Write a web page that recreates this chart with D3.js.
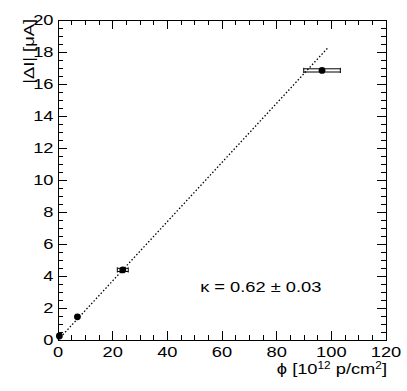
<!DOCTYPE html>
<html>
<head>
<meta charset="utf-8">
<script src="https://cdn.jsdelivr.net/npm/d3@7"></script>
<style>
  body { margin: 0; background: #fff; }
  text { font-family: "Liberation Sans", Arial, sans-serif; fill: #000; }
</style>
</head>
<body>
<div id="chart"></div>
<script>
// measured points: fluence [1e12 p/cm2] vs |dI| [uA]
const fluence = [0.5, 7.1, 23.7, 96.6];
const current = [0.25, 1.45, 4.38, 16.85];
const fluenceErr = [0, 0, 2.0, 6.7];
const currentErr = [0, 0, 0.1, 0.1];

// linear fit drawn as dotted line
const fitSlope = 0.185;
const fitRange = [0, 99];

const xTicks = [0, 20, 40, 60, 80, 100, 120];
const yTicks = [0, 2, 4, 6, 8, 10, 12, 14, 16, 18, 20];

const W = 407, H = 391;
const margin = {top: 20, right: 21, bottom: 51, left: 58};
const width = W - margin.left - margin.right;
const height = H - margin.top - margin.bottom;
const fs = 15.5, sx = 1.18;

const svg = d3.select('#chart').append('svg')
  .attr('width', W)
  .attr('height', H);

const g = svg.append('g')
  .attr('transform', `translate(${margin.left},${margin.top})`);

const x = d3.scaleLinear().domain([0, 120]).range([0, width]);
const y = d3.scaleLinear().domain([0, 20]).range([height, 0]);

// frame
g.append('rect')
  .attr('x', 0).attr('y', 0)
  .attr('width', width).attr('height', height)
  .attr('fill', 'none')
  .attr('stroke', '#000')
  .attr('shape-rendering', 'crispEdges');

// ticks on all four sides, pointing inward
const xMinor = d3.range(0, 120.01, 5);
const yMinor = d3.range(0, 20.01, 0.5);
const isMajorX = v => Math.abs(v % 20) < 1e-6;
const isMajorY = v => Math.abs(v % 2) < 1e-6;

const ticks = g.append('g')
  .attr('stroke', '#000')
  .attr('shape-rendering', 'crispEdges');

xMinor.forEach(v => {
  const len = isMajorX(v) ? 9 : 5;
  ticks.append('line').attr('x1', x(v)).attr('x2', x(v)).attr('y1', height).attr('y2', height - len);
  ticks.append('line').attr('x1', x(v)).attr('x2', x(v)).attr('y1', 0).attr('y2', len);
});
yMinor.forEach(v => {
  const len = isMajorY(v) ? 9 : 5;
  ticks.append('line').attr('y1', y(v)).attr('y2', y(v)).attr('x1', 0).attr('x2', len);
  ticks.append('line').attr('y1', y(v)).attr('y2', y(v)).attr('x1', width).attr('x2', width - len);
});

// tick labels (slightly wide glyphs like the original)
g.selectAll('.xlab').data(xTicks).enter().append('text')
  .attr('class', 'xlab')
  .attr('transform', d => `translate(${x(d)},${height + 16.5}) scale(${sx},1)`)
  .attr('text-anchor', 'middle')
  .style('font-size', fs + 'px')
  .text(d => d);

g.selectAll('.ylab').data(yTicks).enter().append('text')
  .attr('class', 'ylab')
  .attr('transform', d => `translate(-4.5,${y(d) + 4.5}) scale(${sx},1)`)
  .attr('text-anchor', 'end')
  .style('font-size', fs + 'px')
  .text(d => d);

// axis titles
const xt = g.append('text')
  .attr('transform', `translate(${width + 1},${height + 33.5}) scale(${sx},1)`)
  .attr('text-anchor', 'end')
  .style('font-size', fs + 'px');
xt.append('tspan').text('\u03d5 [10');
xt.append('tspan').attr('dy', -4.5).style('font-size', '10px').text('12');
xt.append('tspan').attr('dy', 4.5).text(' p/cm');
xt.append('tspan').attr('dy', -4.5).style('font-size', '10px').text('2');
xt.append('tspan').attr('dy', 4.5).text(']');

g.append('text')
  .attr('transform', `translate(-24.5,-1) rotate(-90) scale(${sx},1)`)
  .attr('text-anchor', 'end')
  .style('font-size', fs + 'px')
  .text('|\u0394I| [\u03bcA]');

// fit line
g.append('line')
  .attr('x1', x(fitRange[0])).attr('y1', y(fitSlope * fitRange[0]))
  .attr('x2', x(fitRange[1])).attr('y2', y(fitSlope * fitRange[1]))
  .attr('stroke', '#000')
  .attr('stroke-width', 1.3)
  .attr('stroke-dasharray', '1.5,2');

// points with error bars
const pts = fluence.map((f, i) => ({x: f, y: current[i], ex: fluenceErr[i], ey: currentErr[i]}));

const eb = g.append('g').attr('stroke', '#000').attr('stroke-width', 1);
pts.filter(d => d.ex > 0).forEach(d => {
  const y1 = y(d.y + d.ey), y2 = y(d.y - d.ey);
  eb.append('line').attr('x1', x(d.x - d.ex)).attr('x2', x(d.x + d.ex)).attr('y1', y1).attr('y2', y1);
  eb.append('line').attr('x1', x(d.x - d.ex)).attr('x2', x(d.x + d.ex)).attr('y1', y2).attr('y2', y2);
  eb.append('line').attr('x1', x(d.x - d.ex)).attr('x2', x(d.x - d.ex)).attr('y1', y1 - 1).attr('y2', y2 + 1);
  eb.append('line').attr('x1', x(d.x + d.ex)).attr('x2', x(d.x + d.ex)).attr('y1', y1 - 1).attr('y2', y2 + 1);
});

g.selectAll('.pt').data(pts).enter().append('circle')
  .attr('class', 'pt')
  .attr('cx', d => x(d.x))
  .attr('cy', d => y(d.y))
  .attr('r', 3.4)
  .attr('fill', '#000');

// fit result
g.append('text')
  .attr('transform', `translate(${x(52)},${y(3)}) scale(${sx},1)`)
  .style('font-size', fs + 'px')
  .text('\u03ba = 0.62 \u00b1 0.03');
</script>
</body>
</html>
